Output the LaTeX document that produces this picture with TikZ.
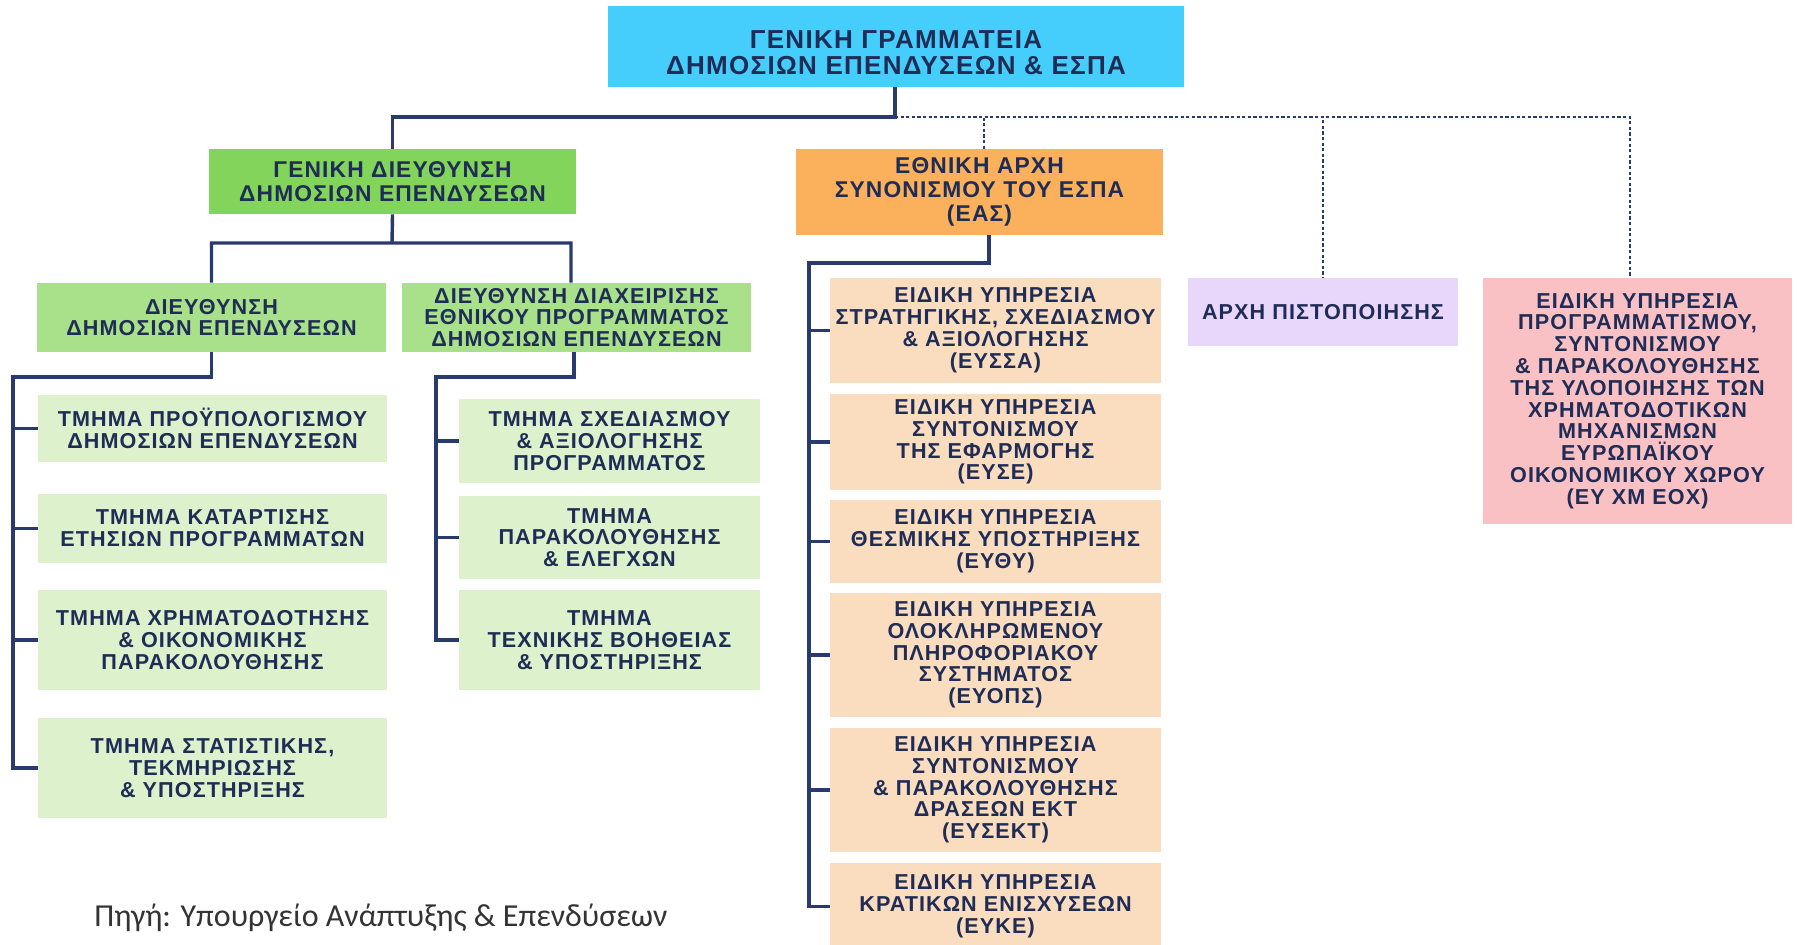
\documentclass[tikz,border=0pt]{standalone}
\usepackage{fontspec}
\usepackage{tikz}
\newfontfamily\orgfont[LetterSpace=5]{Liberation Sans}
\newfontfamily\srcfont{Carlito}
\definecolor{navy}{HTML}{283A6E}
\definecolor{ink}{HTML}{1F2C55}
\definecolor{skyfill}{HTML}{45CDFB}
\definecolor{grnfill}{HTML}{83D45B}
\definecolor{lgrnfill}{HTML}{A9E08A}
\definecolor{pgrnfill}{HTML}{DDF2CC}
\definecolor{orgfill}{HTML}{FBB05B}
\definecolor{peachfill}{HTML}{FADDBF}
\definecolor{lilacfill}{HTML}{E9D6FB}
\definecolor{pinkfill}{HTML}{F9C1C4}
\tikzset{
  unit/.style={inner sep=0pt, align=center, text=ink,
    font=\orgfont\bfseries\fontsize{10.8}{10.9}\selectfont},
  bigunit/.style={unit, font=\orgfont\bfseries\fontsize{11.4}{11.8}\selectfont},
  link/.style={draw=navy, line width=1.7pt},
  dotlink/.style={draw=navy, line width=0.9pt, dash pattern=on 1.6pt off 1.2pt}
}
\begin{document}
\begin{tikzpicture}[x=0.5pt, y=-0.5pt]
  \useasboundingbox (0,0) rectangle (1797,945);
  \clip (0,0) rectangle (1797,945);
  \node (gsg) at (896,46.5) [unit, fill=skyfill, minimum width=288pt, minimum height=40.5pt,
    font=\orgfont\bfseries\fontsize{13}{13}\selectfont] {\rule{0pt}{15pt}ΓΕΝΙΚΗ ΓΡΑΜΜΑΤΕΙΑ\\ΔΗΜΟΣΙΩΝ ΕΠΕΝΔΥΣΕΩΝ \& ΕΣΠΑ};
  \node (gdde) at (392.5,181.5) [bigunit, fill=grnfill, minimum width=183.5pt, minimum height=32.5pt]
    {ΓΕΝΙΚΗ ΔΙΕΥΘΥΝΣΗ\\ΔΗΜΟΣΙΩΝ ΕΠΕΝΔΥΣΕΩΝ};
  \node (eas) at (979.5,192) [bigunit, fill=orgfill, minimum width=183.5pt, minimum height=43pt]
    {ΕΘΝΙΚΗ ΑΡΧΗ\\ΣΥΝΟΝΙΣΜΟΥ ΤΟΥ ΕΣΠΑ\\(ΕΑΣ)};
  \node (dde) at (211.5,317.5) [unit, fill=lgrnfill, minimum width=174.5pt, minimum height=34.5pt]
    {ΔΙΕΥΘΥΝΣΗ\\ΔΗΜΟΣΙΩΝ ΕΠΕΝΔΥΣΕΩΝ};
  \node (ddep) at (576.5,317.5) [unit, fill=lgrnfill, minimum width=174.5pt, minimum height=34.5pt]
    {ΔΙΕΥΘΥΝΣΗ ΔΙΑΧΕΙΡΙΣΗΣ\\ΕΘΝΙΚΟΥ ΠΡΟΓΡΑΜΜΑΤΟΣ\\ΔΗΜΟΣΙΩΝ ΕΠΕΝΔΥΣΕΩΝ};
  % tmimata of the first directorate
  \node (budget) at (212.5,428.5) [unit, fill=pgrnfill, minimum width=174.5pt, minimum height=33.5pt]
    {ΤΜΗΜΑ ΠΡΟΫΠΟΛΟΓΙΣΜΟΥ\\ΔΗΜΟΣΙΩΝ ΕΠΕΝΔΥΣΕΩΝ};
  \node (annual) at (212.5,528.5) [unit, fill=pgrnfill, minimum width=174.5pt, minimum height=34.5pt]
    {ΤΜΗΜΑ ΚΑΤΑΡΤΙΣΗΣ\\ΕΤΗΣΙΩΝ ΠΡΟΓΡΑΜΜΑΤΩΝ};
  \node (finance) at (212.5,640) [unit, fill=pgrnfill, minimum width=174.5pt, minimum height=50pt]
    {ΤΜΗΜΑ ΧΡΗΜΑΤΟΔΟΤΗΣΗΣ\\\& ΟΙΚΟΝΟΜΙΚΗΣ\\ΠΑΡΑΚΟΛΟΥΘΗΣΗΣ};
  \node (stats) at (212.5,768) [unit, fill=pgrnfill, minimum width=174.5pt, minimum height=50pt]
    {ΤΜΗΜΑ ΣΤΑΤΙΣΤΙΚΗΣ,\\ΤΕΚΜΗΡΙΩΣΗΣ\\\& ΥΠΟΣΤΗΡΙΞΗΣ};
  % tmimata of the second directorate
  \node (design) at (609.5,441) [unit, fill=pgrnfill, minimum width=150.5pt, minimum height=42pt]
    {ΤΜΗΜΑ ΣΧΕΔΙΑΣΜΟΥ\\\& ΑΞΙΟΛΟΓΗΣΗΣ\\ΠΡΟΓΡΑΜΜΑΤΟΣ};
  \node (monitor) at (609.5,537.5) [unit, fill=pgrnfill, minimum width=150.5pt, minimum height=41.5pt]
    {ΤΜΗΜΑ\\ΠΑΡΑΚΟΛΟΥΘΗΣΗΣ\\\& ΕΛΕΓΧΩΝ};
  \node (techsup) at (609.5,640) [unit, fill=pgrnfill, minimum width=150.5pt, minimum height=50pt]
    {ΤΜΗΜΑ\\ΤΕΧΝΙΚΗΣ ΒΟΗΘΕΙΑΣ\\\& ΥΠΟΣΤΗΡΙΞΗΣ};
  % eidikes ypiresies
  \node (eyssa) at (995.5,330.5) [unit, fill=peachfill, minimum width=165.5pt, minimum height=52.5pt]
    {ΕΙΔΙΚΗ ΥΠΗΡΕΣΙΑ\\ΣΤΡΑΤΗΓΙΚΗΣ, ΣΧΕΔΙΑΣΜΟΥ\\\& ΑΞΙΟΛΟΓΗΣΗΣ\\(ΕΥΣΣΑ)};
  \node (eyse) at (995.5,442) [unit, fill=peachfill, minimum width=165.5pt, minimum height=48pt]
    {ΕΙΔΙΚΗ ΥΠΗΡΕΣΙΑ\\ΣΥΝΤΟΝΙΣΜΟΥ\\ΤΗΣ ΕΦΑΡΜΟΓΗΣ\\(ΕΥΣΕ)};
  \node (eythy) at (995.5,541.5) [unit, fill=peachfill, minimum width=165.5pt, minimum height=41.5pt]
    {ΕΙΔΙΚΗ ΥΠΗΡΕΣΙΑ\\ΘΕΣΜΙΚΗΣ ΥΠΟΣΤΗΡΙΞΗΣ\\(ΕΥΘΥ)};
  \node (eyops) at (995.5,655) [unit, fill=peachfill, minimum width=165.5pt, minimum height=62pt]
    {ΕΙΔΙΚΗ ΥΠΗΡΕΣΙΑ\\ΟΛΟΚΛΗΡΩΜΕΝΟΥ\\ΠΛΗΡΟΦΟΡΙΑΚΟΥ\\ΣΥΣΤΗΜΑΤΟΣ\\(ΕΥΟΠΣ)};
  \node (eysekt) at (995.5,790) [unit, fill=peachfill, minimum width=165.5pt, minimum height=62pt]
    {ΕΙΔΙΚΗ ΥΠΗΡΕΣΙΑ\\ΣΥΝΤΟΝΙΣΜΟΥ\\\& ΠΑΡΑΚΟΛΟΥΘΗΣΗΣ\\ΔΡΑΣΕΩΝ ΕΚΤ\\(ΕΥΣΕΚΤ)};
  \node (eyke) at (995.5,906.5) [unit, fill=peachfill, minimum width=165.5pt, minimum height=43.5pt]
    {ΕΙΔΙΚΗ ΥΠΗΡΕΣΙΑ\\ΚΡΑΤΙΚΩΝ ΕΝΙΣΧΥΣΕΩΝ\\(ΕΥΚΕ)};
  \node (cert) at (1323,312) [unit, fill=lilacfill, minimum width=135pt, minimum height=34pt]
    {ΑΡΧΗ ΠΙΣΤΟΠΟΙΗΣΗΣ};
  \node (eyxm) at (1637.5,401) [unit, fill=pinkfill, minimum width=154.5pt, minimum height=123pt]
    {ΕΙΔΙΚΗ ΥΠΗΡΕΣΙΑ\\ΠΡΟΓΡΑΜΜΑΤΙΣΜΟΥ,\\ΣΥΝΤΟΝΙΣΜΟΥ\\\& ΠΑΡΑΚΟΛΟΥΘΗΣΗΣ\\ΤΗΣ ΥΛΟΠΟΙΗΣΗΣ ΤΩΝ\\ΧΡΗΜΑΤΟΔΟΤΙΚΩΝ\\ΜΗΧΑΝΙΣΜΩΝ\\ΕΥΡΩΠΑΪΚΟΥ\\ΟΙΚΟΝΟΜΙΚΟΥ ΧΩΡΟΥ\\(ΕΥ ΧΜ ΕΟΧ)};
  \node (source) at (94,926) [anchor=base west, inner sep=0pt, text=black!80,
    font=\srcfont\fontsize{16}{18}\selectfont] {Πηγή: Υπουργείο Ανάπτυξης \& Επενδύσεων};
  % junctions
  \coordinate (j0) at (895,117);
  \coordinate (j1) at (392,243);
  \coordinate (t1) at (13,377);
  \coordinate (t2) at (436,377);
  \coordinate (t3) at (809,263);
  \draw[link] (gsg.south -| j0) -- (j0) -| (gdde.north);
  \draw[dotlink] (j0) -| ([xshift=2.25pt]eas.north)
    (j0) -| (cert.north)
    (j0) -| ([xshift=-3.75pt]eyxm.north);
  \draw[link] (gdde.south) -- (j1)
    (dde.north) |- (j1) -| ([xshift=-2.75pt]ddep.north);
  \draw[link] (dde.south) |- (t1) |- (stats.west);
  \foreach \n in {budget,annual,finance}
    \draw[link] (t1 |- \n.west) -- (\n.west);
  \draw[link] ([xshift=-1.25pt]ddep.south) |- (t2) |- (techsup.west);
  \foreach \n in {design,monitor}
    \draw[link] (t2 |- \n.west) -- (\n.west);
  \draw[link] ([xshift=4.75pt]eas.south) |- (t3) |- (eyke.west);
  \foreach \n in {eyssa,eyse,eythy,eyops,eysekt}
    \draw[link] (t3 |- \n.west) -- (\n.west);
\end{tikzpicture}
\end{document}
